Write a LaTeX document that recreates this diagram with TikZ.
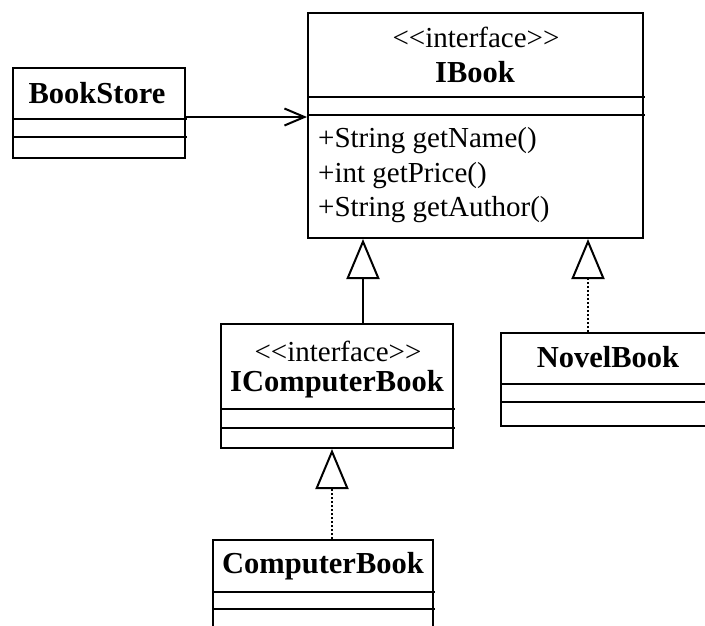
\documentclass[tikz,border=0pt]{standalone}
\usepackage{fontspec}
\setmainfont{Liberation Serif}
\usetikzlibrary{arrows.meta}
\begin{document}
\begin{tikzpicture}[x=1pt,y=-1pt,
  classbox/.style={draw, line width=2pt, rectangle, inner sep=0pt, anchor=north west},
  sepline/.style={line width=2pt},
  lbl/.style={inner sep=0pt, font=\fontsize{29}{35}\selectfont},
  blbl/.style={inner sep=0pt, font=\fontsize{30.5}{35}\selectfont\bfseries},
  mlbl/.style={inner sep=0pt, anchor=west, font=\fontsize{29}{35}\selectfont},
  assoc/.style={line width=2pt, -{Straight Barb[length=20pt, width=17pt, line width=2pt]}},
  gen/.style={line width=2pt, -{Triangle[open, length=40pt, width=33pt, line width=2pt, fill=white]}},
  real/.style={gen, dash pattern=on 2pt off 2pt}
]
\useasboundingbox (0,0) rectangle (705,625);
\clip (0,0) rectangle (705,625);

% BookStore
\node[classbox, minimum width=172pt, minimum height=90pt] (bookstore) at (12,67) {};
\draw[sepline] (12,119) -- (187,119);
\draw[sepline] (12,137) -- (187,137);
\node[blbl] (bsname) at (97,93) {BookStore};

% IBook
\node[classbox, minimum width=335pt, minimum height=225pt] (ibook) at (307,12) {};
\draw[sepline] (307,97) -- (645,97);
\draw[sepline] (307,115) -- (645,115);
\node[lbl] (ibster) at (476,37) {<{}<interface>{}>};
\node[blbl] (ibname) at (475,72) {IBook};
\node[mlbl] (m1) at (318,141) {+String getName()};
\node[mlbl] (m2) at (318,176) {+int getPrice()};
\node[mlbl] (m3) at (318,210) {+String getAuthor()};

% IComputerBook
\node[classbox, minimum width=232pt, minimum height=124pt] (icb) at (220,323) {};
\draw[sepline] (220,409) -- (455,409);
\draw[sepline] (220,428) -- (455,428);
\node[lbl] (icbster) at (338,351) {<{}<interface>{}>};
\node[blbl] (icbname) at (337,384) {IComputerBook};

% NovelBook
\node[classbox, minimum width=220pt, minimum height=93pt] (novel) at (500,332) {};
\draw[sepline] (500,384) -- (720,384);
\draw[sepline] (500,402) -- (720,402);
\node[blbl] (novelname) at (608,357) {NovelBook};

% ComputerBook
\node[classbox, minimum width=220pt, minimum height=120pt] (cb) at (212,539) {};
\draw[sepline] (212,592) -- (435,592);
\draw[sepline] (212,609) -- (435,609);
\node[blbl] (cbname) at (323,566) {ComputerBook};

% connectors
\coordinate (ay) at (0,117);
\draw[assoc] (bookstore.east |- ay) -- (ibook.west |- ay);
\coordinate (gx1) at (363,0);
\draw[gen] (icb.north -| gx1) -- (ibook.south -| gx1);
\coordinate (gx2) at (588,0);
\draw[real] (novel.north -| gx2) -- (ibook.south -| gx2);
\coordinate (gx3) at (332,0);
\draw[real] (cb.north -| gx3) -- (icb.south -| gx3);
\end{tikzpicture}
\end{document}
